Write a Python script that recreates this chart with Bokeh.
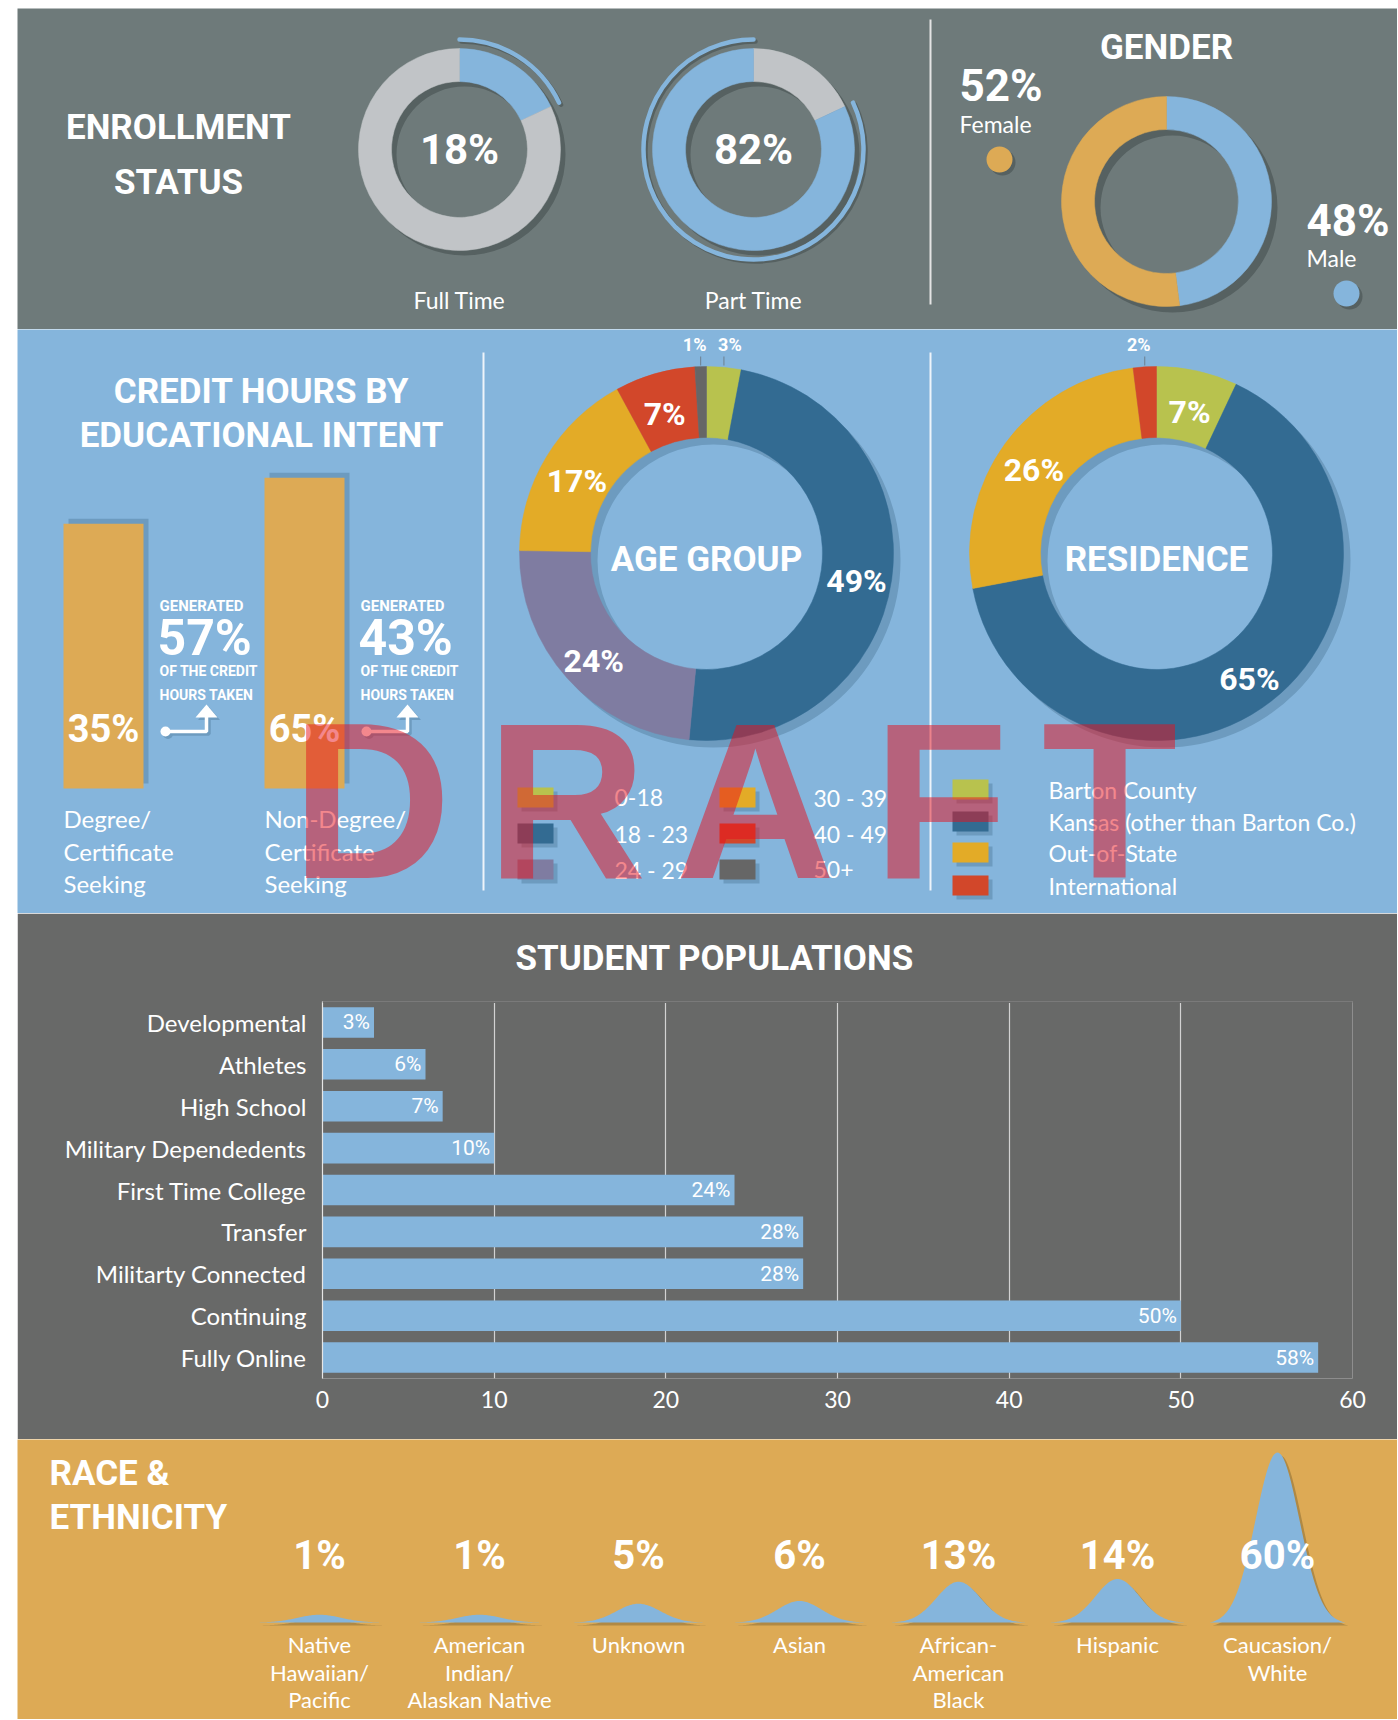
import numpy as np
from bokeh.plotting import figure
from bokeh.models import Range1d, ColumnDataSource, FactorRange, Spacer, FixedTicker, Title, Span
from bokeh.layouts import column, row
from bokeh.core.properties import value
from bokeh.embed import file_html
from bokeh.resources import INLINE

# ---------------- data ----------------
enroll_labels = ["Full Time", "Part Time"]
enroll_pct = [18, 82]

gender_labels = ["Female", "Male"]
gender_pct = [52, 48]

intent_labels = ["Degree/\nCertificate\nSeeking", "Non-Degree/\nCertificate\nSeeking"]
intent_students_pct = [35, 65]
intent_hours_pct = [57, 43]

age_groups = ["0-18", "18 - 23", "24 - 29", "30 - 39", "40 - 49", "50+"]
age_pct = [3, 49, 24, 17, 7, 1]

residence_groups = ["Barton County", "Kansas (other than Barton Co.)", "Out-of-State", "International"]
residence_pct = [7, 65, 26, 2]

population_cats = ["Developmental", "Athletes", "High School", "Military Dependedents",
                   "First Time College", "Transfer", "Militarty Connected", "Continuing", "Fully Online"]
population_pct = [3, 6, 7, 10, 24, 28, 28, 50, 58]
population_ticks = [0, 10, 20, 30, 40, 50, 60]

race_labels = ["Native\nHawaiian/\nPacific", "American\nIndian/\nAlaskan Native", "Unknown", "Asian",
               "African-\nAmerican\nBlack", "Hispanic", "Caucasion/\nWhite"]
race_pct = [1, 1, 5, 6, 13, 14, 60]

# ---------------- style ----------------
HEAD = "Roboto"
BODY = "Lato"
WM_FONT = "Liberation Sans"
SLATE, SLATE_SH = "#6e7a7a", "#566161"
SKY, SKY_SH = "#85b5dc", "#6d9bbf"
GRAPHITE = "#686968"
OCHRE, OCHRE_SH = "#ddaa55", "#b08944"
BLUE, SILVER = "#85b5dc", "#c1c4c7"
AGE_COLORS = ["#b8c24e", "#336b92", "#7f7ca1", "#e3ab27", "#d2472a", "#666666"]
RES_COLORS = ["#b8c24e", "#336b92", "#e3ab27", "#d2472a"]

W = 1380
LEFT = 17


def slices(values):
    fr = np.asarray(values, float) / float(np.sum(values))
    ends = np.cumsum(fr)
    starts = ends - fr
    return np.pi / 2 - 2 * np.pi * ends, np.pi / 2 - 2 * np.pi * starts, (starts + ends) / 2


class Panel:
    def __init__(self, top, h, bg):
        self.top, self.h = top, h
        self.p = figure(width=W, height=h, x_range=Range1d(0, W), y_range=Range1d(0, h),
                        x_axis_type=None, y_axis_type=None, toolbar_location=None,
                        output_backend="svg", min_border=0, background_fill_color=bg,
                        border_fill_color=bg, outline_line_color=None)
        self.p.frame_align = False

    def X(self, xf):
        return np.asarray(xf, float) - LEFT

    def Y(self, yf):
        return self.h - (np.asarray(yf, float) - self.top)

    def text(self, xf, yf, s, size, font=HEAD, style="bold", color="white", align="center",
             baseline="middle", alpha=1.0):
        self.p.text(x=[float(self.X(xf))], y=[float(self.Y(yf))], text=[s], text_font=value(font),
                    text_font_size=f"{size}px", text_font_style=style, text_color=color,
                    text_align=align, text_baseline=baseline, text_alpha=alpha)

    def lines(self, xf, yf, s, size, step, **kw):
        for k, part in enumerate(s.split("\n")):
            self.text(xf, yf + k * step, part, size, **kw)

    def donut(self, cxf, cyf, r_in, r_out, vals, colors, shadow, off):
        cx, cy = float(self.X(cxf)), float(self.Y(cyf))
        self.p.annulus(x=[cx + off], y=[cy - off], inner_radius=r_in, outer_radius=r_out,
                       fill_color=shadow, line_color=None)
        s, e, mid = slices(vals)
        src = ColumnDataSource(dict(s=s, e=e, c=colors))
        self.p.annular_wedge(x=cx, y=cy, inner_radius=r_in, outer_radius=r_out, start_angle="s",
                             end_angle="e", fill_color="c", line_color="c", line_width=0.5, source=src)
        return s, e, mid


# ================= TOP PANEL =================
top = Panel(8, 321, SLATE)
top.text(178, 127, "ENROLLMENT", 35)
top.text(178, 182, "STATUS", 35)

centers = [459, 753]
for i, (lab, v) in enumerate(zip(enroll_labels, enroll_pct)):
    if i == 0:
        vals, cols, hi = [v, 100 - v], [BLUE, SILVER], 0
    else:
        vals, cols, hi = [100 - v, v], [SILVER, BLUE], 1
    s, e, _ = top.donut(centers[i], 149, 68, 101, vals, cols, SLATE_SH, 5)
    cx, cy = float(top.X(centers[i])), float(top.Y(149))
    top.p.arc(x=cx + 2, y=cy - 2, radius=110, start_angle=s[hi], end_angle=e[hi],
              line_color=SLATE_SH, line_width=4.5, line_cap="round")
    top.p.arc(x=cx, y=cy, radius=110, start_angle=s[hi], end_angle=e[hi],
              line_color=BLUE, line_width=4.5, line_cap="round")
    top.text(centers[i], 149, f"{v}%", 42)
    top.text(centers[i], 299, lab, 23, font=BODY, style="normal")

# divider
top.p.segment(x0=[float(top.X(930))], y0=[float(top.Y(19))], x1=[float(top.X(930))], y1=[float(top.Y(304))],
              line_color="#e4e4e4", line_width=2)

# gender
top.text(1166, 47, "GENDER", 35)
top.donut(1166, 201, 72, 105, [gender_pct[1], gender_pct[0]], [BLUE, OCHRE], SLATE_SH, 6)
g_pos = [(959, 85, 123, 999, 159, OCHRE), (1306, 220, 257, 1346, 293, BLUE)]
for (lx, py, ly, dx, dy, col), lab, v in zip(g_pos, gender_labels, gender_pct):
    top.text(lx, py, f"{v}%", 44, align="left")
    top.text(lx, ly, lab, 23, font=BODY, style="normal", align="left")
    top.p.circle(x=[float(top.X(dx)) + 3], y=[float(top.Y(dy)) - 3], radius=13, fill_color=SLATE_SH, line_color=None)
    top.p.circle(x=[float(top.X(dx))], y=[float(top.Y(dy))], radius=13, fill_color=col, line_color=None)

# ================= MIDDLE PANEL =================
mid = Panel(329, 584, SKY)
mid.text(261, 391, "CREDIT HOURS BY", 35)
mid.text(261, 435, "EDUCATIONAL INTENT", 35)

bar_left = [63, 264]
bar_w = 80
bar_base = 788
for i, (lab, sp, hp) in enumerate(zip(intent_labels, intent_students_pct, intent_hours_pct)):
    l = bar_left[i]
    r = l + bar_w
    topy = bar_base - (211 + 1.533 * sp)
    mid.p.quad(left=[float(mid.X(l + 5))], right=[float(mid.X(r + 5))], top=[float(mid.Y(topy - 5))],
               bottom=[float(mid.Y(bar_base - 5))], fill_color=SKY_SH, line_color=None)
    mid.p.quad(left=[float(mid.X(l))], right=[float(mid.X(r))], top=[float(mid.Y(topy))],
               bottom=[float(mid.Y(bar_base))], fill_color=OCHRE, line_color=None)
    mid.text((l + r) / 2, 728, f"{sp}%", 38)
    tx = r + 16
    mid.text(tx, 605, "GENERATED", 15, align="left")
    mid.text(tx - 2, 637, f"{hp}%", 50, align="left")
    mid.text(tx, 670, "OF THE CREDIT", 14, align="left")
    mid.text(tx, 694, "HOURS TAKEN", 14, align="left")
    # arrow
    for off, col in ((2.5, SKY_SH), (0, "white")):
        x0, x1 = r + 22 + off, r + 63 + off
        ya, yb = 731 + off, 716 + off
        mid.p.line(x=[float(mid.X(x0)), float(mid.X(x1)), float(mid.X(x1))],
                   y=[float(mid.Y(ya)), float(mid.Y(ya)), float(mid.Y(yb))], line_color=col, line_width=3.5)
        mid.p.circle(x=[float(mid.X(x0))], y=[float(mid.Y(ya))], radius=5, fill_color=col, line_color=None)
        mid.p.patch(x=[float(mid.X(x1 - 11)), float(mid.X(x1 + 11)), float(mid.X(x1))],
                    y=[float(mid.Y(yb + 1)), float(mid.Y(yb + 1)), float(mid.Y(yb - 12))],
                    fill_color=col, line_color=None)
    mid.lines(l, 818, lab, 24, 32.5, font=BODY, style="normal", align="left")

# dividers
for xd in (483, 930):
    mid.p.segment(x0=[float(mid.X(xd))], y0=[float(mid.Y(352))], x1=[float(mid.X(xd))], y1=[float(mid.Y(890))],
                  line_color="#eef4fa", line_width=2)


def donut_block(cxf, cyf, vals, colors, title):
    r_in, r_out = 116, 187
    s, e, m = mid.donut(cxf, cyf, r_in, r_out, vals, colors, SKY_SH, 7)
    mid.text(cxf, cyf + 6, title, 35)
    ang = 2 * np.pi * m
    rm = (r_in + r_out) / 2
    for v, a in zip(vals, ang):
        if v >= 5:
            mid.text(cxf + rm * np.sin(a), cyf - rm * np.cos(a) + 6, f"{v}%", 32)
        else:
            ex = cxf + r_out * np.sin(a)
            lx = ex + 6 * np.sign(np.sin(a))
            mid.p.segment(x0=[float(mid.X(ex))], y0=[float(mid.Y(cyf - r_out - 1))],
                          x1=[float(mid.X(ex))], y1=[float(mid.Y(cyf - r_out - 10))],
                          line_color="#6d7f8f", line_width=1)
            mid.text(lx, cyf - r_out - 22, f"{v}%", 18)


donut_block(706, 553, age_pct, AGE_COLORS, "AGE GROUP")
donut_block(1156, 553, residence_pct, RES_COLORS, "RESIDENCE")

# legends
age_sw_x = [517, 719]
age_tx_x = [614, 813]
age_rows = [797, 833, 869]
for i, (g, c) in enumerate(zip(age_groups, AGE_COLORS)):
    col, rw = i // 3, i % 3
    x0, yc = age_sw_x[col], age_rows[rw]
    mid.p.quad(left=[float(mid.X(x0 + 4))], right=[float(mid.X(x0 + 40))], top=[float(mid.Y(yc - 6))],
               bottom=[float(mid.Y(yc + 14))], fill_color=SKY_SH, line_color=None)
    mid.p.quad(left=[float(mid.X(x0))], right=[float(mid.X(x0 + 36))], top=[float(mid.Y(yc - 10))],
               bottom=[float(mid.Y(yc + 10))], fill_color=c, line_color=None)
    mid.text(age_tx_x[col], yc, g, 23, font=BODY, style="normal", align="left")

res_rows = [789, 821, 852, 885]
for g, c, yc in zip(residence_groups, RES_COLORS, res_rows):
    mid.p.quad(left=[float(mid.X(956))], right=[float(mid.X(992))], top=[float(mid.Y(yc - 6))],
               bottom=[float(mid.Y(yc + 14))], fill_color=SKY_SH, line_color=None)
    mid.p.quad(left=[float(mid.X(952))], right=[float(mid.X(988))], top=[float(mid.Y(yc - 10))],
               bottom=[float(mid.Y(yc + 10))], fill_color=c, line_color=None)
    mid.text(1048, yc, g, 23, font=BODY, style="normal", align="left")

# DRAFT watermark
wm_x = [371, 566, 755, 940, 1109]
mid.p.text(x=list(mid.X(wm_x)), y=[float(mid.Y(800))] * 5, text=list("DRAFT"),
           text_font=value(WM_FONT), text_font_style="bold", text_font_size="222px",
           text_color="#e8101c", text_alpha=0.5, text_align="center", text_baseline="middle")

# ================= STUDENT POPULATIONS =================
BH = 526
b_top, b_bottom, b_left, b_right = 85, 61, 305, 1335
bars = figure(width=W, height=BH, y_range=FactorRange(factors=list(reversed(population_cats))),
              x_range=Range1d(0, 60), toolbar_location=None, output_backend="svg",
              min_border_left=b_left, min_border_right=W - b_right, min_border_top=b_top,
              min_border_bottom=b_bottom,
              title=Title(text="STUDENT POPULATIONS", align="left", offset=193, standoff=45,
                          text_font=HEAD, text_font_style="bold", text_font_size="35px",
                          text_color="white"),
              background_fill_color=GRAPHITE, border_fill_color=GRAPHITE)
bars.outline_line_color = None
bars.frame_align = False
src = ColumnDataSource(dict(cat=population_cats, v=population_pct,
                            lab=[f"{v}%" for v in population_pct]))
bars.hbar(y="cat", right="v", left=0, height=0.73, fill_color=BLUE, line_color=None, source=src)
bars.text(x="v", y="cat", text="lab", x_offset=-4, text_align="right", text_baseline="middle",
          text_font=value(HEAD), text_font_size="21px", text_color="white", source=src)
# mask a stray light edge along the top of the frame
bars.add_layout(Span(location=len(population_cats), dimension="width", line_color=GRAPHITE,
                     line_width=3))
bars.xaxis.ticker = FixedTicker(ticks=population_ticks)
bars.xgrid.ticker = FixedTicker(ticks=population_ticks)
bars.xgrid.grid_line_color = "#d2d2d2"
bars.xgrid.grid_line_width = 1.2
bars.ygrid.visible = False
for ax in (bars.xaxis, bars.yaxis):
    ax.major_tick_line_color = None
    ax.minor_tick_line_color = None
    ax.major_tick_out = 0
    ax.major_tick_in = 0
    ax.major_label_text_color = "white"
    ax.major_label_text_font = BODY
    ax.major_label_text_font_size = "23px"
bars.xaxis.axis_line_color = None
bars.xaxis.major_label_standoff = 12
bars.yaxis.axis_line_color = "#e6e6e6"
bars.yaxis.axis_line_width = 1.2
bars.yaxis.major_label_standoff = 16
bars.yaxis.major_label_text_font_size = "24px"

# ================= RACE & ETHNICITY =================
race = Panel(1439, 280, OCHRE)
race.text(49, 1473, "RACE &", 35, align="left")
race.text(49, 1517, "ETHNICITY", 35, align="left")
race_x = [319, 479, 638, 799, 958, 1117, 1277]
base_y = 1622
dx = np.linspace(-68, 68, 121)
g = np.exp(-0.5 * (dx / 22.0) ** 2)
g = (g - g[0]) / (1 - g[0])
for xc, v, lab in zip(race_x, race_pct, race_labels):
    h = 5 + 2.75 * v
    for off, col in ((3, OCHRE_SH), (0, BLUE)):
        xs = list(race.X(xc + dx + off)) + [float(race.X(xc + 68 + off)), float(race.X(xc - 68 + off))]
        ys = list(race.Y(base_y - h * g + off)) + [float(race.Y(base_y + off)), float(race.Y(base_y + off))]
        race.p.patch(x=xs, y=ys, fill_color=col, line_color=None)
    race.text(xc, 1555, f"{v}%", 40)
    race.lines(xc, 1644, lab, 22, 27.7, font=BODY, style="normal")

panels = column(top.p, mid.p, bars, race.p)
layout = column(Spacer(width=10, height=8), row(Spacer(width=LEFT, height=10), panels))
open("out.html", "w").write(file_html(layout, INLINE))
